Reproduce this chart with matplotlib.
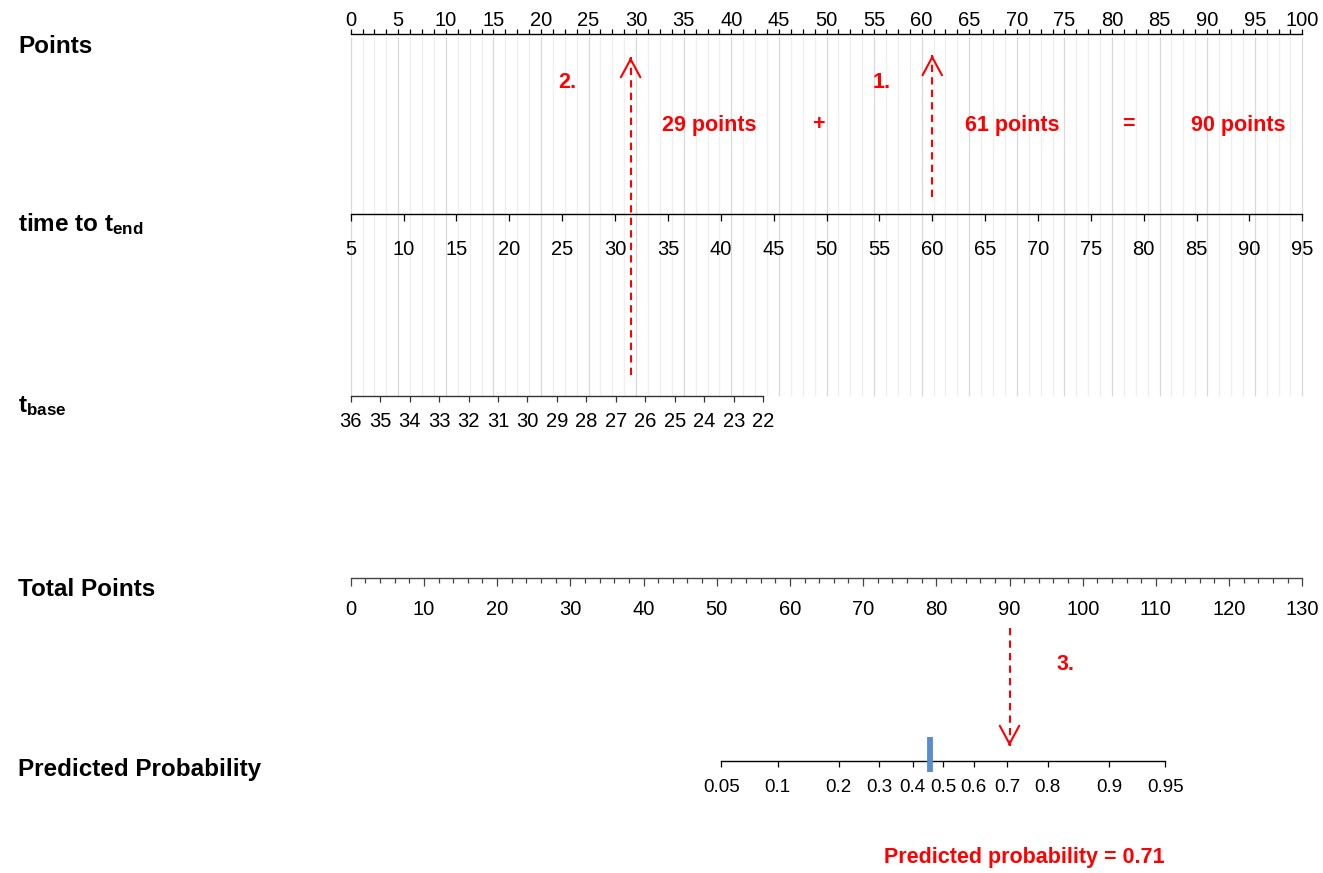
import numpy as np
import matplotlib
matplotlib.use("Agg")
import matplotlib.pyplot as plt
from matplotlib.transforms import blended_transform_factory

plt.rcParams['font.family'] = ['Liberation Sans', 'DejaVu Sans']
plt.rcParams['mathtext.fontset'] = 'custom'
plt.rcParams['mathtext.rm'] = 'Liberation Sans:bold'
plt.rcParams['mathtext.it'] = 'Liberation Sans:bold:italic'
plt.rcParams['mathtext.bf'] = 'Liberation Sans:bold'

# nomogram scales
points_ticks = np.arange(0, 101, 5)
points_minor = np.arange(0, 100.01, 1.25)
tend_ticks = np.arange(5, 96, 5)
tend_range = (5, 95)          # spans 0..100 points
tbase_ticks = np.arange(36, 21, -1)
tbase_range = (36, 22)        # spans 0..tbase_max_pts points
tbase_max_pts = 43.35
total_ticks = np.arange(0, 131, 10)
total_minor = np.arange(0, 131, 2)
total_max = 130
prob_ticks = [0.05, 0.1, 0.2, 0.3, 0.4, 0.5, 0.6, 0.7, 0.8, 0.9, 0.95]
prob_labels = ['0.05', '0.1', '0.2', '0.3', '0.4', '0.5', '0.6', '0.7', '0.8', '0.9', '0.95']
lp_center = 80.95   # total points where p = 0.5
lp_slope = 10.3     # total points per logit unit
threshold = 0.455   # blue marker on the probability scale

# worked example
t_end_value = 60
t_base_value = 26.5
total_value = 90
ann_texts = ['2.', '1.', '29 points', '+', '61 points', '=', '90 points', '3.',
             'Predicted probability = 0.71']
ann_xy = [(567, 82), (882, 82), (709, 125), (818, 125), (1012, 125), (1128, 124),
          (1238, 125), (1066, 665), (1024, 858)]

row_names = ['Points', 'time to t$_{\\mathrm{end}}$', 't$_{\\mathrm{base}}$',
             'Total Points', 'Predicted Probability']
row_label_y = [53, 231, 412, 596, 776]


def pts_to_tend(x):
    return tend_range[0] + np.asarray(x) * (tend_range[1] - tend_range[0]) / 100


def tend_to_pts(v):
    return (np.asarray(v) - tend_range[0]) * 100 / (tend_range[1] - tend_range[0])


def pts_to_tbase(x):
    return tbase_range[0] + np.asarray(x) * (tbase_range[1] - tbase_range[0]) / tbase_max_pts


def tbase_to_pts(v):
    return (np.asarray(v) - tbase_range[0]) * tbase_max_pts / (tbase_range[1] - tbase_range[0])


def pts_to_total(x):
    return np.asarray(x) * total_max / 100


def total_to_pts(v):
    return np.asarray(v) * 100 / total_max


def pts_to_prob(x):
    z = (pts_to_total(x) - lp_center) / lp_slope
    return 1 / (1 + np.exp(-z))


def prob_to_pts(p):
    p = np.clip(np.asarray(p, dtype=float), 1e-12, 1 - 1e-12)
    return total_to_pts(lp_center + lp_slope * np.log(p / (1 - p)))


W, H = 1323, 873
fig = plt.figure(figsize=(W / 100, H / 100), dpi=100)
ax = fig.add_axes([0, 0, 1, 1])
x0, px_per_pt = 350.7, 9.516
ax.set_xlim(-x0 / px_per_pt, (W - x0) / px_per_pt)
ax.set_ylim(H, 0)
for s in ax.spines.values():
    s.set_visible(False)
ax.set_xticks([])
ax.set_yticks([])


def make_row(y, funcs, major, labels, lo, hi, side='bottom', minor=None,
             size=14, pad=10, length=5, minor_length=None, color='black'):
    sec = ax.secondary_xaxis(1 - y / H, functions=funcs)
    sec.set_alignment(side)
    sec.set_ticks(major, labels)
    if minor is not None:
        sec.set_ticks(minor, minor=True)
        sec.tick_params(axis='x', which='minor', direction='out',
                        length=minor_length or length, width=0.9, color=color)
    sec.tick_params(axis='x', which='major', direction='out', length=length,
                    width=0.9, pad=pad, labelsize=size, color=color)
    sec.spines[side].set_bounds(lo, hi)
    sec.spines[side].set_linewidth(1.0)
    sec.spines[side].set_color(color)
    return sec


# grid behind the variable rows
grid_col = ['#d9d9d9' if v % 5 == 0 else '#efefef' for v in points_minor]
ax.vlines(points_minor, 37, 396, colors=grid_col, lw=0.9, zorder=0)

sec_pts = make_row(34.5, (lambda x: x, lambda x: x), points_ticks,
                   [str(v) for v in points_ticks], 0, 100, side='top',
                   minor=points_minor, size=14.5, pad=-0.5, length=3.5)
sec_tend = make_row(214, (pts_to_tend, tend_to_pts), tend_ticks,
                    [str(v) for v in tend_ticks], tend_range[0], tend_range[1],
                    size=14.5, pad=13.5, length=5)
sec_tbase = make_row(396.5, (pts_to_tbase, tbase_to_pts), tbase_ticks,
                     [str(v) for v in tbase_ticks], tbase_range[1], tbase_range[0],
                     size=14.5, pad=6.5, length=4.5, color='#333333')
sec_tot = make_row(578, (pts_to_total, total_to_pts), total_ticks,
                   [str(v) for v in total_ticks], 0, total_max,
                   minor=total_minor, size=14.5, pad=9.5, length=6, minor_length=3.5,
                   color='#444444')
sec_prob = make_row(760.5, (pts_to_prob, prob_to_pts), prob_ticks, prob_labels,
                    prob_ticks[0], prob_ticks[-1], size=13.5, pad=9, length=4.5)

# left-hand row names
for name, yb in zip(row_names, row_label_y):
    fig.text(18 / W, 1 - yb / H, name, fontsize=17.5, fontweight='bold', va='baseline')

# threshold marker
tr_prob = blended_transform_factory(sec_prob.transData, ax.transData)
ax.plot([threshold, threshold], [737, 772], transform=tr_prob, color='#5B8BD0',
        lw=4.2, solid_capstyle='butt')


def dashed_arrow(trans, v, y_tail, y_head):
    ax.plot([v, v], [y_tail, y_head], transform=trans, color='red', lw=1.5,
            ls=(0, (3.5, 2.5)))
    step = 2 if y_head < y_tail else -2
    ax.annotate('', xy=(v, y_head), xytext=(v, y_head + step), xycoords=trans,
                textcoords=trans,
                arrowprops=dict(arrowstyle='->,head_length=1.3,head_width=0.7',
                                color='red', lw=1.5, shrinkA=0, shrinkB=0,
                                mutation_scale=10))


dashed_arrow(blended_transform_factory(sec_tend.transData, ax.transData),
             t_end_value, 197, 55)
dashed_arrow(blended_transform_factory(sec_tbase.transData, ax.transData),
             t_base_value, 375, 57)
dashed_arrow(blended_transform_factory(sec_tot.transData, ax.transData),
             total_value, 628, 746)

for txt, (xp, yp) in zip(ann_texts, ann_xy):
    fig.text(xp / W, 1 - yp / H, txt, color='red', fontsize=15.5, fontweight='bold',
             ha='center', va='center')

fig.savefig('out.png', dpi=100)
